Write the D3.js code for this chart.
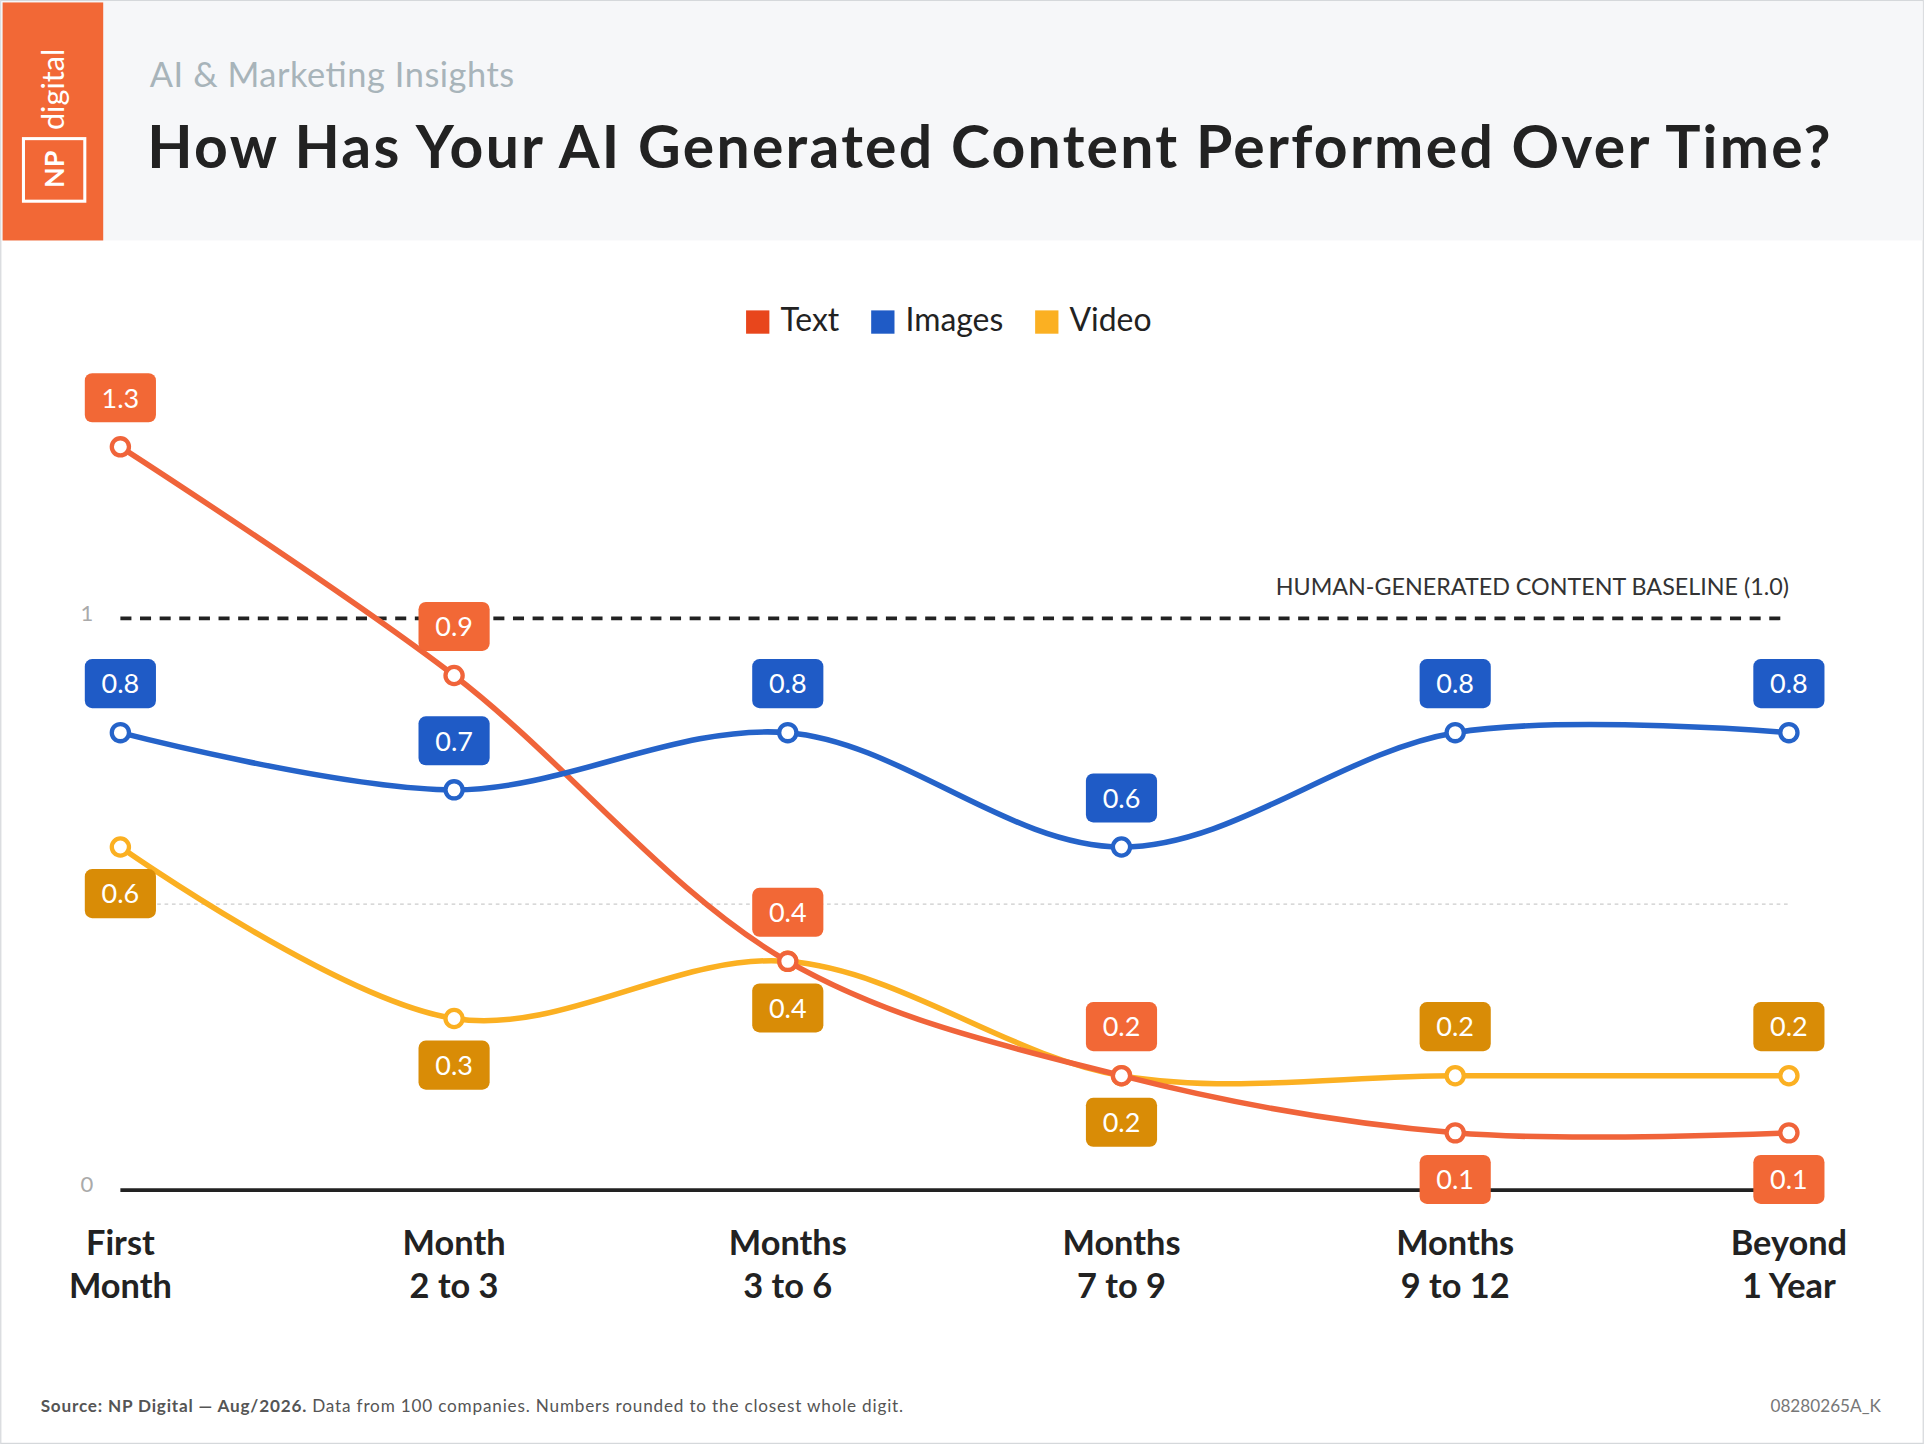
<!DOCTYPE html>
<html><head><meta charset="utf-8">
<script src="https://cdn.jsdelivr.net/npm/d3@7"></script>
<style>body{margin:0;background:#fff}svg{display:block;font-family:Lato,"Open Sans",sans-serif}</style>
</head><body><svg id="c" width="1924" height="1444" viewBox="0 0 1568 1177"></svg>
<script>
const categories=[["First","Month"],["Month","2 to 3"],["Months","3 to 6"],["Months","7 to 9"],["Months","9 to 12"],["Beyond","1 Year"]];
const textValues=[1.3,0.9,0.4,0.2,0.1,0.1];
const imageValues=[0.8,0.7,0.8,0.6,0.8,0.8];
const videoValues=[0.6,0.3,0.4,0.2,0.2,0.2];
const textSides=["up","up","up","up","down","down"];
const imageSides=["up","up","up","up","up","up"];
const videoSides=["down","down","down","down","up","up"];
const yTicks=[0,1];

const svg=d3.select("#c");
svg.append("rect").attr("x",0.5).attr("y",0.5).attr("width",1567).attr("height",1176).attr("fill","#fff").attr("stroke","#d5d8db");
svg.append("rect").attr("x",1).attr("y",1).attr("width",1566).attr("height",195).attr("fill","#f6f7f9");
svg.append("rect").attr("x",2).attr("y",2).attr("width",82).attr("height",194).attr("fill","#f26836");
const lg=svg.append("g").attr("transform","translate(43,100) rotate(-90)");
lg.append("rect").attr("x",-64).attr("y",-24).attr("width",51).attr("height",50).attr("fill","none").attr("stroke","#fff").attr("stroke-width",2.5);
lg.append("text").attr("x",-38).attr("y",9).attr("text-anchor","middle").attr("fill","#fff").attr("font-size",22).attr("font-weight",700).text("NP");
lg.append("text").attr("x",-6).attr("y",9).attr("fill","#fff").attr("font-size",25).text("digital");
svg.append("text").attr("x",122).attr("y",71).attr("font-size",28).attr("fill","#a8b4ba").attr("textLength",297).text("AI & Marketing Insights");
svg.append("text").attr("x",120).attr("y",137).attr("font-size",48).attr("font-weight",700).attr("fill","#222").attr("textLength",1372).text("How Has Your AI Generated Content Performed Over Time?");

const x=d3.scalePoint().domain(d3.range(6)).range([98,1458]);
const y=d3.scaleLinear().domain([0,1]).range([970,504]);

const leg=[["Text","#e8461c"],["Images","#1f5bc6"],["Video","#fbb022"]];
let lx=608;
leg.forEach(([n,c])=>{const g=svg.append("g");
 g.append("rect").attr("x",lx).attr("y",253).attr("width",19).attr("height",19).attr("fill",c);
 const t=g.append("text").attr("x",lx+28).attr("y",270).attr("font-size",26).attr("fill","#222").text(n);
 lx+=28+t.node().getComputedTextLength()+26;});

svg.append("line").attr("x1",98).attr("x2",1458).attr("y1",y(0.5)).attr("y2",y(0.5)).attr("stroke","#ccc").attr("stroke-dasharray","3,3");
svg.append("line").attr("x1",98).attr("x2",1458).attr("y1",y(1)).attr("y2",y(1)).attr("stroke","#222").attr("stroke-width",3).attr("stroke-dasharray","9,7");
svg.append("text").attr("x",1458).attr("y",485).attr("text-anchor","end").attr("font-size",19).attr("fill","#333").text("HUMAN-GENERATED CONTENT BASELINE (1.0)");
svg.append("line").attr("x1",98).attr("x2",1458).attr("y1",y(0)).attr("y2",y(0)).attr("stroke","#222").attr("stroke-width",3);
yTicks.forEach(v=>svg.append("text").attr("x",76).attr("y",y(v)+2).attr("text-anchor","end").attr("font-size",18).attr("fill","#aaa").text(v));

categories.forEach((c,i)=>{const t=svg.append("text").attr("text-anchor","middle").attr("font-size",28).attr("font-weight",700).attr("fill","#222");
 c.forEach((s,j)=>t.append("tspan").attr("x",x(i)).attr("y",1023+j*35).text(s));});

const series=[
 {v:videoValues,s:videoSides,line:"#fbb022",box:"#d98c06"},
 {v:textValues,s:textSides,line:"#f0643a",box:"#f26836"},
 {v:imageValues,s:imageSides,line:"#2563c9",box:"#1f5bc6"}];
const lineGen=d3.line().x((d,i)=>x(i)).y(d=>y(d)).curve(d3.curveCatmullRom.alpha(0.5));
series.forEach(S=>{
 svg.append("path").attr("d",lineGen(S.v)).attr("fill","none").attr("stroke",S.line).attr("stroke-width",4.5);
 S.v.forEach((d,i)=>svg.append("circle").attr("cx",x(i)).attr("cy",y(d)).attr("r",7).attr("fill","#fff").attr("stroke",S.line).attr("stroke-width",3.5));
});
series.forEach(S=>S.v.forEach((d,i)=>{
 const cy=y(d)+(S.s[i]==="up"?-40:38);
 svg.append("rect").attr("x",x(i)-29).attr("y",cy-20).attr("width",58).attr("height",40).attr("rx",6).attr("fill",S.box);
 svg.append("text").attr("x",x(i)).attr("y",cy+8).attr("text-anchor","middle").attr("font-size",22).attr("fill","#fff").text(d);
}));

const f=svg.append("text").attr("x",33).attr("y",1151).attr("font-size",14).attr("fill","#555").attr("textLength",703);
f.append("tspan").attr("font-weight",700).text("Source: NP Digital — Aug/2026.");
f.append("tspan").text(" Data from 100 companies. Numbers rounded to the closest whole digit.");
svg.append("text").attr("x",1533).attr("y",1151).attr("text-anchor","end").attr("font-size",14).attr("fill","#777").text("08280265A_K");
</script></body></html>
